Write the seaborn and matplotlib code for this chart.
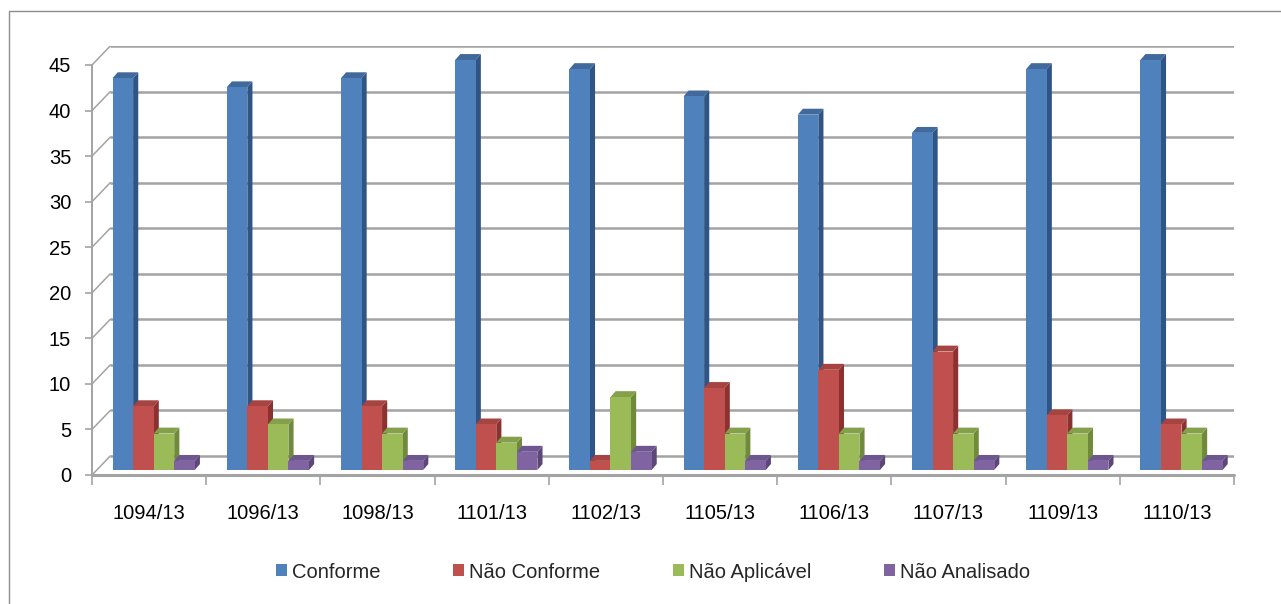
import numpy as np
import pandas as pd
import matplotlib
matplotlib.use("Agg")
import matplotlib.pyplot as plt
from matplotlib.patches import Polygon, Rectangle, Patch
import seaborn as sns

# ---- data -------------------------------------------------------------
ensaios = ["1094/13", "1096/13", "1098/13", "1101/13", "1102/13",
           "1105/13", "1106/13", "1107/13", "1109/13", "1110/13"]
status = ["Conforme", "Não Conforme", "Não Aplicável", "Não Analisado"]
conforme = [43, 42, 43, 45, 44, 41, 39, 37, 44, 45]
nao_conforme = [7, 7, 7, 5, 1, 9, 11, 13, 6, 5]
nao_aplicavel = [4, 5, 4, 3, 8, 4, 4, 4, 4, 4]
nao_analisado = [1, 1, 1, 2, 2, 1, 1, 1, 1, 1]
y_ticks = [0, 5, 10, 15, 20, 25, 30, 35, 40, 45]

series = [conforme, nao_conforme, nao_aplicavel, nao_analisado]
df = pd.DataFrame({
    "ensaio": np.tile(ensaios, len(status)),
    "status": np.repeat(status, len(ensaios)),
    "valor": np.concatenate(series),
})

# front, side and top shades for each series
front = ["#4F81BD", "#C0504D", "#9BBB59", "#8064A2"]
side = ["#2F5486", "#8B3230", "#6F8A3A", "#5C4777"]
top = ["#41699C", "#A54441", "#84A04A", "#6E5690"]

# ---- style ------------------------------------------------------------
sns.set_theme(style="white")
plt.rcParams["font.family"] = ["Liberation Sans", "DejaVu Sans"]
FS = 14.5

W, H = 1281, 604
fig = plt.figure(figsize=(W / 100, H / 100), dpi=100)

# outer chart frame
fig.patches.append(Rectangle((9 / W, -0.2), 1.3, 0.2 + (H - 11) / H,
                             transform=fig.transFigure, fill=False,
                             edgecolor="#8C8C8C", lw=1.0))

# plot area: front floor at y=475 px, back wall top at y=46 px
ax_l, ax_r, ax_b, ax_t = 92, 1234, 475, 46
ax = fig.add_axes([ax_l / W, (H - ax_b) / H, (ax_r - ax_l) / W, (ax_b - ax_t) / H])

# depth of the back wall, of the bar plane and of each bar (data units)
wall_dx, wall_dy = 0.16, 2.085
plane_dx, plane_dy = 0.04, 0.55
bar_dx, bar_dy = 0.045, 0.65

ax.set_xlim(-0.5, 9.5 + wall_dx)
ax.set_ylim(0, 45 + wall_dy)

# back wall gridlines and left wall connectors
grid_c = "#A3A3A3"
for g in y_ticks:
    ax.plot([-0.5 + wall_dx, 9.5 + wall_dx], [g + wall_dy, g + wall_dy],
            color=grid_c, lw=1.8, zorder=0.5, solid_capstyle="butt")
    ax.plot([-0.5, -0.5 + wall_dx], [g, g + wall_dy], color=grid_c, lw=1.1, zorder=0.5)
# floor edges
ax.plot([-0.5, 9.5], [0, 0], color=grid_c, lw=2.2, zorder=0.6, clip_on=False)
ax.plot([9.5, 9.5 + wall_dx], [0, wall_dy], color=grid_c, lw=1.3, zorder=0.6)

sns.barplot(data=df, x="ensaio", y="valor", hue="status", hue_order=status,
            order=ensaios, palette=front, saturation=1, width=0.72,
            errorbar=None, ax=ax, zorder=2)
leg = ax.get_legend()
if leg is not None:
    leg.remove()

# move bars onto the middle depth plane and give them side and top faces
for k, cont in enumerate(ax.containers):
    for bar in cont:
        bar.set_x(bar.get_x() + plane_dx)
        bar.set_y(plane_dy)
        bar.set_edgecolor("none")
        x0 = bar.get_x()
        x1 = x0 + bar.get_width()
        y0 = plane_dy
        y1 = plane_dy + bar.get_height()
        ax.add_patch(Polygon([(x1, y0), (x1 + bar_dx, y0 + bar_dy),
                              (x1 + bar_dx, y1 + bar_dy), (x1, y1)],
                             closed=True, facecolor=side[k], edgecolor="none", zorder=1.9))
        ax.add_patch(Polygon([(x0, y1), (x1, y1), (x1 + bar_dx, y1 + bar_dy),
                              (x0 + bar_dx, y1 + bar_dy)],
                             closed=True, facecolor=top[k], edgecolor="none", zorder=1.9))

# axes decoration
for s in ["top", "right", "bottom"]:
    ax.spines[s].set_visible(False)
ax.spines["left"].set_color(grid_c)
ax.spines["left"].set_linewidth(1.4)
ax.spines["left"].set_bounds(0, 45)
ax.set_yticks(y_ticks)
ax.tick_params(axis="y", left=True, length=5, width=1.2, color=grid_c,
               labelsize=FS, pad=10, labelcolor="black")
ax.set_xticks(range(len(ensaios)))
ax.set_xticklabels(ensaios)
ax.set_xticks(np.arange(-0.5, len(ensaios), 1.0), minor=True)
ax.tick_params(axis="x", which="major", length=0, labelsize=FS, pad=21, labelcolor="black")
ax.tick_params(axis="x", which="minor", bottom=True, length=7, width=1.2, color=grid_c)
ax.set_xlabel("")
ax.set_ylabel("")
ax.grid(False)

handles = [Patch(facecolor=c, edgecolor="none") for c in front]
fig.legend(handles, status, loc="center", bbox_to_anchor=(653 / W, (H - 572) / H),
           ncol=4, frameon=False, fontsize=FS, handlelength=0.55, handleheight=0.55,
           handletextpad=0.25, columnspacing=3.6, borderpad=0)

fig.savefig("out.png", dpi=100)
